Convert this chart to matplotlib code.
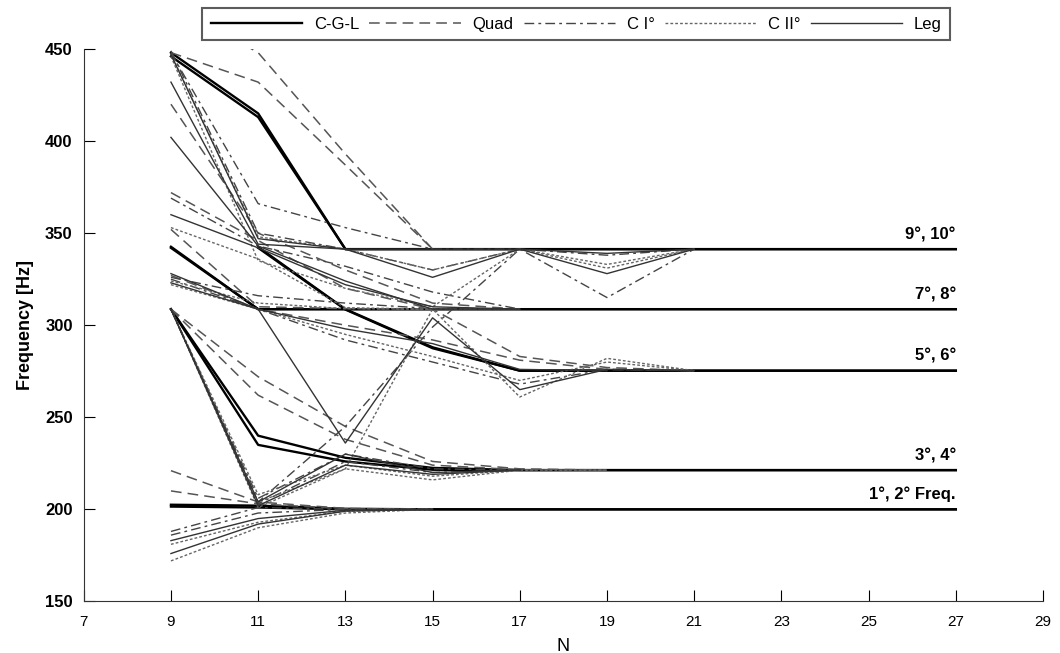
import numpy as np
import matplotlib.pyplot as plt

nan = np.nan

# grid sizes N and frequencies (Hz) for the modes 1..10 of each method
n_grid = [9, 11, 13, 15, 17, 19, 21, 23, 25, 27]

cgl_hz = [
    [202.5, 202.0, 200.3, 200.0, 200.0, 200.0, 200.0, 200.0, 200.0, 200.0],
    [201.5, 201.0, 200.0, 200.0, 200.0, 200.0, 200.0, 200.0, 200.0, 200.0],
    [308.7, 240.0, 228.0, 222.5, 221.3, 221.3, 221.3, 221.3, 221.3, 221.3],
    [308.7, 235.0, 226.0, 221.5, 221.3, 221.3, 221.3, 221.3, 221.3, 221.3],
    [nan, 342.5, 308.7, 288.0, 275.3, 275.3, 275.3, 275.3, 275.3, 275.3],
    [nan, 342.0, 308.5, 287.5, 275.3, 275.3, 275.3, 275.3, 275.3, 275.3],
    [342.6, 308.7, 308.7, 308.7, 308.7, 308.7, 308.7, 308.7, 308.7, 308.7],
    [342.0, 308.7, 308.7, 308.7, 308.7, 308.7, 308.7, 308.7, 308.7, 308.7],
    [448.0, 415.0, 341.3, 341.3, 341.3, 341.3, 341.3, 341.3, 341.3, 341.3],
    [446.0, 413.0, 341.3, 341.3, 341.3, 341.3, 341.3, 341.3, 341.3, 341.3],
]

quad_hz = [
    [221.0, 204.0, 200.5, 200.0, nan, nan, nan, nan, nan, nan],
    [210.0, 203.0, 200.3, 200.0, nan, nan, nan, nan, nan, nan],
    [308.7, 272.0, 245.0, 226.0, 222.0, 221.3, nan, nan, nan, nan],
    [308.7, 262.0, 238.0, 224.0, 221.5, 221.3, nan, nan, nan, nan],
    [352.0, 310.0, 309.0, 308.7, 283.0, 277.0, 275.3, nan, nan, nan],
    [327.0, 308.7, 300.0, 292.0, 281.0, 276.0, 275.3, nan, nan, nan],
    [420.0, 350.0, 330.0, 312.0, 308.7, nan, nan, nan, nan, nan],
    [372.0, 346.0, 320.0, 308.7, 308.7, nan, nan, nan, nan, nan],
    [448.0, 432.0, 387.0, 341.3, nan, nan, nan, nan, nan, nan],
    [475.0, 448.0, 393.0, 341.3, nan, nan, nan, nan, nan, nan],
]

c1_hz = [
    [188.0, 201.0, 200.0, 200.0, nan, nan, nan, nan, nan, nan],
    [186.0, 198.0, 200.0, 200.0, nan, nan, nan, nan, nan, nan],
    [308.7, 206.0, 230.0, 222.0, 221.3, nan, nan, nan, nan, nan],
    [308.7, 203.0, 226.0, 220.0, 221.3, nan, nan, nan, nan, nan],
    [308.7, 204.0, 245.0, 299.0, 341.3, 315.0, 341.3, nan, nan, nan],
    [325.0, 308.7, 292.0, 280.0, 268.0, 276.0, 275.3, nan, nan, nan],
    [369.0, 343.0, 332.0, 318.0, 308.7, nan, nan, nan, nan, nan],
    [326.0, 316.0, 312.0, 309.0, 308.7, nan, nan, nan, nan, nan],
    [448.0, 366.0, 353.0, 341.3, 341.3, 338.0, 341.3, nan, nan, nan],
    [449.0, 350.0, 341.3, 330.0, 341.3, nan, nan, nan, nan, nan],
]

c2_hz = [
    [181.0, 193.0, 199.0, 200.0, nan, nan, nan, nan, nan, nan],
    [172.0, 190.0, 198.0, 200.0, nan, nan, nan, nan, nan, nan],
    [308.7, 204.0, 222.0, 216.0, 221.3, 221.3, nan, nan, nan, nan],
    [308.7, 208.0, 224.0, 218.0, 221.3, nan, nan, nan, nan, nan],
    [308.7, 201.0, 222.0, 308.7, 261.0, 282.0, 275.3, nan, nan, nan],
    [322.0, 308.7, 295.0, 283.0, 270.0, 280.0, 275.3, nan, nan, nan],
    [353.0, 336.0, 309.5, 308.7, 308.7, nan, nan, nan, nan, nan],
    [324.0, 312.0, 309.0, 308.7, nan, nan, nan, nan, nan, nan],
    [447.0, 348.0, 341.3, 330.0, 341.3, 331.0, 341.3, nan, nan, nan],
    [446.0, 335.0, 320.0, 310.0, 341.3, 333.0, 341.3, nan, nan, nan],
]

leg_hz = [
    [183.0, 195.0, 199.5, 200.0, nan, nan, nan, nan, nan, nan],
    [176.0, 192.0, 199.0, 200.0, nan, nan, nan, nan, nan, nan],
    [308.7, 204.0, 230.0, 220.0, 221.3, nan, nan, nan, nan, nan],
    [308.7, 202.0, 224.0, 219.0, 221.3, nan, nan, nan, nan, nan],
    [323.0, 308.7, 236.0, 304.0, 265.0, 276.0, 275.3, nan, nan, nan],
    [328.0, 308.7, 298.0, 290.0, 276.0, 275.3, nan, nan, nan, nan],
    [402.0, 343.0, 324.0, 308.7, 308.7, nan, nan, nan, nan, nan],
    [360.0, 342.0, 322.0, 310.0, 308.7, nan, nan, nan, nan, nan],
    [432.0, 344.0, 341.3, 326.0, 341.3, 328.0, 341.3, nan, nan, nan],
    [447.0, 347.0, 341.3, 341.3, 341.3, 339.0, 341.3, nan, nan, nan],
]

methods = ['C-G-L', 'Quad', 'C I°', 'C II°', 'Leg']
mode_labels = ['1°, 2° Freq.', '3°, 4°', '5°, 6°', '7°, 8°', '9°, 10°']
mode_levels = [200.0, 221.3, 275.3, 308.7, 341.3]

plt.rcParams['font.family'] = ['Liberation Sans', 'DejaVu Sans']

fig = plt.figure(figsize=(10.6, 6.53), dpi=100)
ax = fig.add_axes([0.079, 0.079, 0.905, 0.846])

styles = [
    (cgl_hz, dict(color='black', lw=1.7, ls='-')),
    (quad_hz, dict(color='#555555', lw=1.1, ls=(0, (7, 4)))),
    (c1_hz, dict(color='#444444', lw=1.0, ls=(0, (7, 3, 2, 3)))),
    (c2_hz, dict(color='#666666', lw=1.0, ls=(0, (2, 1.5)))),
    (leg_hz, dict(color='#333333', lw=1.0, ls='-')),
]

handles = []
for (data, st), name in zip(styles, methods):
    for k, row in enumerate(data):
        ln, = ax.plot(n_grid, row, label=name if k == 0 else None, **st)
        if k == 0:
            handles.append(ln)

for lab, lev in zip(mode_labels, mode_levels):
    ax.annotate(lab, xy=(27, lev), xytext=(0, 5), textcoords='offset points',
                ha='right', va='bottom', fontsize=12, fontweight='bold')

ax.set_xlim(7, 29)
ax.set_ylim(150, 450)
ax.set_xticks(range(7, 30, 2))
ax.set_yticks(range(150, 451, 50))
ax.tick_params(direction='in', length=8, labelsize=11)
ax.tick_params(axis='x', pad=10)
ax.tick_params(axis='y', labelsize=12, pad=8)
ax.spines['top'].set_visible(False)
ax.spines['right'].set_visible(False)
for s in ('left', 'bottom'):
    ax.spines[s].set_color('#333333')
for t in ax.get_yticklabels():
    t.set_fontweight('bold')

ax.set_xlabel('N', fontsize=13, labelpad=6)
ax.set_ylabel('Frequency [Hz]', fontsize=13, fontweight='bold', labelpad=8)

leg = fig.legend(handles=handles, loc='upper left', bbox_to_anchor=(0.183, 1.0),
                 ncol=5, handlelength=5.5, columnspacing=0.6, handletextpad=0.7,
                 fontsize=12, frameon=True, fancybox=False, borderpad=0.5)
leg.get_frame().set_edgecolor('#333333')
leg.get_frame().set_linewidth(1.5)

fig.savefig('out.png', dpi=100)
